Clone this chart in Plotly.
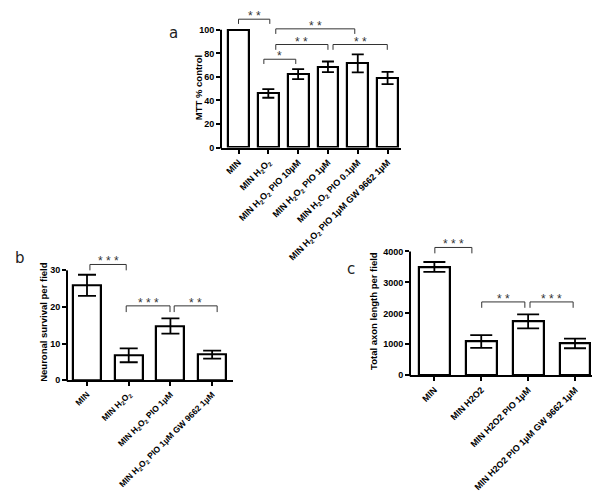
import plotly.graph_objects as go

# ---------------- data ----------------
cats_a = ["MIN", "MIN H<sub>2</sub>O<sub>2</sub>", "MIN H<sub>2</sub>O<sub>2</sub> PIO 10µM",
          "MIN H<sub>2</sub>O<sub>2</sub> PIO 1µM", "MIN H<sub>2</sub>O<sub>2</sub> PIO 0.1µM",
          "MIN H<sub>2</sub>O<sub>2</sub> PIO 1µM GW 9662 1µM"]
vals_a = [100, 46, 62.4, 68.6, 71.5, 59.1]
errs_a = [0, 3.7, 4.2, 4.5, 7.6, 5.2]
yticks_a = [0, 20, 40, 60, 80, 100]

cats_b = ["MIN", "MIN H<sub>2</sub>O<sub>2</sub>", "MIN H<sub>2</sub>O<sub>2</sub> PIO 1µM",
          "MIN H<sub>2</sub>O<sub>2</sub> PIO 1µM GW 9662 1µM"]
vals_b = [25.9, 6.8, 14.8, 7.0]
errs_b = [2.9, 1.9, 2.1, 1.1]
yticks_b = [0, 10, 20, 30]

cats_c = ["MIN", "MIN H2O2", "MIN H2O2 PIO 1µM", "MIN H2O2 PIO 1µM GW 9662 1µM"]
vals_c = [3500, 1090, 1740, 1030]
errs_c = [160, 205, 226, 156]
yticks_c = [0, 1000, 2000, 3000, 4000]

# significance brackets: (from category, to category, bracket level, end level, label)
sig_a = [(0, 1.05, 109, 105, "* *"), (1.25, 3.9, 100.8, 96.5, "* *"),
         (1.25, 3.0, 87.5, 83, "* *"), (3.17, 4.99, 87.5, 83, "* *"),
         (0.85, 1.92, 75, 71, "*")]
sig_b = [(0.07, 0.94, 31.6, 30.0, "* * *"), (0.94, 1.99, 20.3, 18.6, "* * *"),
         (2.09, 3.12, 20.3, 18.6, "* *")]
sig_c = [(0.01, 0.8, 4130, 3940, "* * *"), (1.01, 1.93, 2370, 2180, "* *"),
         (2.04, 2.96, 2370, 2180, "* * *")]

FONT = "Liberation Sans, Arial, sans-serif"

panels = [
    dict(cats=cats_a, vals=vals_a, errs=errs_a, yt=yticks_a, sig=sig_a, ax="", xdom=[0.355, 0.655],
         ydom=[0.7157, 0.9916], yr=[0, 115], xr=[-0.587, 5.45], bw=0.70, cap=6,
         title="MTT % control", tpos=(190 / 600, 1 - 81 / 496), lab="a", lpos=(165 / 600, 1 - 25 / 496), tf=9),
    dict(cats=cats_b, vals=vals_b, errs=errs_b, yt=yticks_b, sig=sig_b, ax="2", xdom=[0.0983, 0.375],
         ydom=[0.2419, 0.4881], yr=[0, 33], xr=[-0.48, 3.5], bw=0.67, cap=9,
         title="Neuronal survival per field", tpos=(36 / 600, 1 - 317 / 496), lab="b", lpos=(12 / 600, 1 - 253 / 496), tf=8.5),
    dict(cats=cats_c, vals=vals_c, errs=errs_c, yt=yticks_c, sig=sig_c, ax="3", xdom=[0.67, 0.9833],
         ydom=[0.252, 0.523], yr=[0, 4300], xr=[-0.52, 3.49], bw=0.66, cap=11,
         title="Total axon length per field", tpos=(366 / 600, 1 - 306 / 496), lab="c", lpos=(343 / 600, 1 - 264 / 496), tf=9),
]

fig = go.Figure()
shapes = []
annotations = []
layout = {}

for p in panels:
    ax = p["ax"]
    xa, ya = "x" + ax, "y" + ax
    fig.add_trace(go.Bar(
        x=list(range(len(p["cats"]))), y=p["vals"], width=p["bw"],
        marker=dict(color="white", line=dict(color="black", width=2.2)),
        error_y=dict(type="data", array=p["errs"], color="black", thickness=1.8, width=p["cap"]),
        xaxis=xa, yaxis=ya, showlegend=False, hoverinfo="skip"))
    layout["xaxis" + ax] = dict(
        domain=p["xdom"], anchor=ya, range=p["xr"], tickmode="array",
        tickvals=list(range(len(p["cats"]))), ticktext=p["cats"], tickangle=-45,
        showline=True, linecolor="black", linewidth=2, ticks="outside", ticklen=4,
        tickwidth=1.5, tickcolor="black", showgrid=False, zeroline=False,
        tickfont=dict(family=FONT, size=p["tf"], color="black", weight="bold"))
    layout["yaxis" + ax] = dict(
        domain=p["ydom"], anchor=xa, range=p["yr"], tickmode="array", tickvals=p["yt"],
        showline=False, ticks="outside", ticklen=4, tickwidth=1.5, tickcolor="black",
        showgrid=False, zeroline=False,
        tickfont=dict(family=FONT, size=9, color="black", weight="bold"))
    # y-axis line only up to the last tick (paper coords computed from the axis)
    d0, d1 = p["ydom"]
    r0, r1 = p["yr"]
    ytop = d0 + (p["yt"][-1] - r0) / (r1 - r0) * (d1 - d0)
    shapes.append(dict(type="line", xref="paper", yref="paper", x0=p["xdom"][0], x1=p["xdom"][0],
                       y0=d0 - 0.002, y1=ytop, line=dict(color="black", width=2)))
    for (x0, x1, yb, ye, txt) in p["sig"]:
        shapes.append(dict(type="path", xref=xa, yref=ya,
                           path=f"M {x0},{ye} L {x0},{yb} L {x1},{yb} L {x1},{ye}",
                           line=dict(color="#333333", width=1)))
        annotations.append(dict(x=(x0 + x1) / 2, y=yb, xref=xa, yref=ya, text=txt, showarrow=False,
                                yanchor="middle", yshift=3, font=dict(family=FONT, size=12, color="#333333")))
    annotations.append(dict(x=p["tpos"][0], y=p["tpos"][1], xref="paper", yref="paper", text=p["title"],
                            textangle=-90, showarrow=False, xanchor="center", yanchor="middle",
                            font=dict(family=FONT, size=9.5, color="black", weight="bold")))
    annotations.append(dict(x=p["lpos"][0], y=p["lpos"][1], xref="paper", yref="paper", text=p["lab"],
                            showarrow=False, xanchor="center", yanchor="middle",
                            font=dict(family="DejaVu Sans, sans-serif", size=15, color="#222222")))

fig.update_layout(width=600, height=496, margin=dict(l=0, r=0, t=0, b=0),
                  paper_bgcolor="white", plot_bgcolor="white", bargap=0,
                  shapes=shapes, annotations=annotations, **layout)
fig.write_html("out.html")
